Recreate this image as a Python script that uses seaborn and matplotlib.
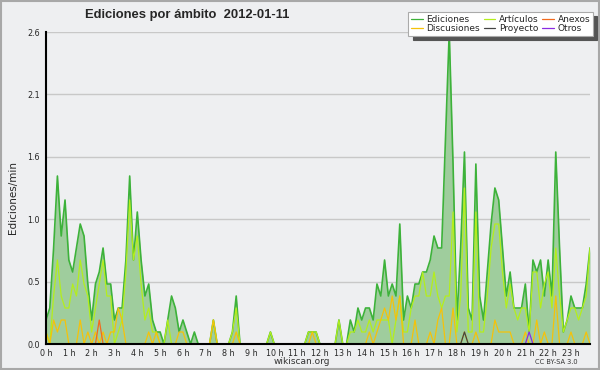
import numpy as np
import pandas as pd
import seaborn as sns
import matplotlib
matplotlib.use("Agg")
import matplotlib.pyplot as plt
from matplotlib.lines import Line2D
from matplotlib.ticker import FixedLocator, MultipleLocator

# edits per minute, one value per 10-minute slot (12 values = 2 hours per row)
ediciones = [
    0.2, 0.3, 0.8, 1.4, 0.9, 1.2, 0.7, 0.6, 0.8, 1.0, 0.9, 0.5,
    0.2, 0.5, 0.6, 0.8, 0.5, 0.5, 0.2, 0.3, 0.3, 0.7, 1.4, 0.7,
    1.1, 0.7, 0.4, 0.5, 0.2, 0.1, 0.1, 0.0, 0.2, 0.4, 0.3, 0.1,
    0.2, 0.1, 0.0, 0.1, 0.0, 0.0, 0.0, 0.0, 0.2, 0.0, 0.0, 0.0,
    0.0, 0.1, 0.4, 0.0, 0.0, 0.0, 0.0, 0.0, 0.0, 0.0, 0.0, 0.1,
    0.0, 0.0, 0.0, 0.0, 0.0, 0.0, 0.0, 0.0, 0.0, 0.1, 0.1, 0.1,
    0.0, 0.0, 0.0, 0.0, 0.0, 0.2, 0.0, 0.0, 0.2, 0.1, 0.3, 0.2,
    0.3, 0.3, 0.2, 0.5, 0.4, 0.7, 0.4, 0.5, 0.4, 1.0, 0.2, 0.4,
    0.3, 0.5, 0.5, 0.6, 0.6, 0.7, 0.9, 0.8, 0.8, 1.7, 2.6, 1.5,
    0.2, 0.8, 1.6, 0.3, 0.2, 1.5, 0.4, 0.2, 0.6, 1.0, 1.3, 1.2,
    0.8, 0.4, 0.6, 0.3, 0.3, 0.3, 0.5, 0.1, 0.7, 0.6, 0.7, 0.4,
    0.7, 0.4, 1.6, 0.8, 0.1, 0.2, 0.4, 0.3, 0.3, 0.3, 0.5, 0.8,
]
articulos = [
    0.1, 0.0, 0.4, 0.7, 0.4, 0.3, 0.3, 0.5, 0.4, 0.7, 0.5, 0.4,
    0.1, 0.3, 0.5, 0.7, 0.4, 0.4, 0.0, 0.1, 0.2, 0.6, 1.2, 0.7,
    0.9, 0.5, 0.2, 0.3, 0.1, 0.1, 0.0, 0.0, 0.2, 0.0, 0.0, 0.0,
    0.0, 0.0, 0.0, 0.0, 0.0, 0.0, 0.0, 0.0, 0.2, 0.0, 0.0, 0.0,
    0.0, 0.1, 0.3, 0.0, 0.0, 0.0, 0.0, 0.0, 0.0, 0.0, 0.0, 0.1,
    0.0, 0.0, 0.0, 0.0, 0.0, 0.0, 0.0, 0.0, 0.0, 0.1, 0.1, 0.1,
    0.0, 0.0, 0.0, 0.0, 0.0, 0.2, 0.0, 0.0, 0.1, 0.1, 0.2, 0.1,
    0.1, 0.2, 0.1, 0.2, 0.2, 0.2, 0.2, 0.0, 0.2, 0.4, 0.1, 0.1,
    0.3, 0.4, 0.4, 0.6, 0.4, 0.4, 0.6, 0.4, 0.3, 0.4, 0.4, 1.1,
    0.1, 0.4, 1.3, 0.1, 0.1, 1.1, 0.1, 0.1, 0.4, 0.8, 1.0, 1.0,
    0.6, 0.3, 0.5, 0.3, 0.2, 0.3, 0.3, 0.1, 0.6, 0.6, 0.3, 0.5,
    0.6, 0.3, 0.8, 0.4, 0.1, 0.2, 0.3, 0.3, 0.2, 0.3, 0.4, 0.8,
]
discusiones = [
    0.1, 0.0, 0.2, 0.1, 0.2, 0.2, 0.0, 0.0, 0.0, 0.2, 0.0, 0.1,
    0.0, 0.1, 0.0, 0.1, 0.0, 0.1, 0.1, 0.3, 0.2, 0.0, 0.0, 0.0,
    0.0, 0.0, 0.0, 0.1, 0.0, 0.1, 0.0, 0.0, 0.0, 0.0, 0.0, 0.1,
    0.1, 0.0, 0.0, 0.0, 0.0, 0.0, 0.0, 0.0, 0.2, 0.0, 0.0, 0.0,
    0.0, 0.0, 0.1, 0.0, 0.0, 0.0, 0.0, 0.0, 0.0, 0.0, 0.0, 0.0,
    0.0, 0.0, 0.0, 0.0, 0.0, 0.0, 0.0, 0.0, 0.0, 0.0, 0.1, 0.0,
    0.0, 0.0, 0.0, 0.0, 0.0, 0.0, 0.0, 0.0, 0.0, 0.0, 0.0, 0.0,
    0.0, 0.1, 0.0, 0.1, 0.2, 0.3, 0.2, 0.4, 0.2, 0.4, 0.0, 0.0,
    0.0, 0.2, 0.0, 0.0, 0.0, 0.1, 0.0, 0.2, 0.3, 0.0, 0.0, 0.3,
    0.0, 0.0, 0.1, 0.0, 0.0, 0.1, 0.0, 0.0, 0.0, 0.0, 0.2, 0.1,
    0.1, 0.1, 0.1, 0.0, 0.0, 0.0, 0.1, 0.0, 0.0, 0.2, 0.0, 0.1,
    0.0, 0.0, 0.4, 0.0, 0.0, 0.0, 0.1, 0.0, 0.0, 0.0, 0.1, 0.0,
]
# sparse series: (slot index, value)
anexos_pts = [(14, 0.2)]
proyecto_pts = [(110, 0.1)]
otros_pts = [(127, 0.1)]

hour_labels = [f"{h} h" for h in range(24)]
ytick_labels = ["0.0", "0.5", "1.0", "1.6", "2.1", "2.6"]

n = len(ediciones)
hours = np.arange(n) / 6.0


def sparse(points):
    vals = np.zeros(n)
    for i, v in points:
        vals[i] = v
    return vals


df = pd.DataFrame({
    "hora": hours,
    "Ediciones": ediciones,
    "Artículos": articulos,
    "Discusiones": discusiones,
    "Anexos": sparse(anexos_pts),
    "Proyecto": sparse(proyecto_pts),
    "Otros": sparse(otros_pts),
})

colors = {
    "Ediciones": "#3db23a",
    "Artículos": "#b4ee1c",
    "Discusiones": "#f5c20a",
    "Anexos": "#f26a1e",
    "Proyecto": "#444444",
    "Otros": "#8a2be2",
}

bg = "#eeeff1"
sns.set_style("white")
plt.rcParams["font.family"] = ["DejaVu Sans"]

fig = plt.figure(figsize=(6.0, 3.7), dpi=100, facecolor=bg)
ax = fig.add_axes([46 / 600, 26 / 370, 544 / 600, 312 / 370])
ax.set_facecolor(bg)

ax.fill_between(df["hora"], df["Ediciones"], color="#9fcd9d", lw=0, zorder=1)
for name in ["Ediciones", "Artículos", "Discusiones", "Anexos", "Proyecto", "Otros"]:
    sns.lineplot(data=df, x="hora", y=name, ax=ax, color=colors[name],
                 lw=1.2 if name == "Ediciones" else 0.9, zorder=3)

ax.set_xlim(0, hours[-1])
ax.set_ylim(0, 2.6)
yt = np.linspace(0, 2.6, 6)
ax.yaxis.set_major_locator(FixedLocator(yt))
ax.set_yticklabels(ytick_labels)
ax.yaxis.set_minor_locator(MultipleLocator(0.13))
ax.xaxis.set_major_locator(FixedLocator(np.arange(24)))
ax.set_xticklabels(hour_labels)
ax.xaxis.set_minor_locator(MultipleLocator(1 / 6))
ax.tick_params(axis="x", which="major", direction="out", length=3, width=1,
               labelsize=5.8, color="black", pad=0.5)
ax.tick_params(axis="x", which="minor", direction="out", length=2.2, width=0.8,
               color="black")
ax.tick_params(axis="y", which="major", direction="out", length=4, width=1,
               labelsize=5.8, color="black", pad=0.5)
ax.tick_params(axis="y", which="minor", direction="out", length=2.5, width=1,
               color="black")
for y in yt:
    ax.axhline(y, color="#c8c8c8", lw=1, zorder=0)

for side in ["top", "right"]:
    ax.spines[side].set_visible(False)
for side in ["left", "bottom"]:
    ax.spines[side].set_color("black")
    ax.spines[side].set_linewidth(1.5)
    ax.spines[side].set_zorder(5)

ax.set_xlabel("")
ax.set_ylabel("Ediciones/min", fontsize=7.5)
ax.yaxis.set_label_coords(-0.052, 0.47)

fig.text(85 / 600, 1 - 15 / 370, "Ediciones por ámbito  2012-01-11",
         fontsize=9.4, fontweight="bold", ha="left", va="center",
         family=["Liberation Sans", "DejaVu Sans"])
fig.text(302 / 600, 1 - 361 / 370, "wikiscan.org", fontsize=6.5,
         ha="center", va="center", color="#333333")
fig.text(556 / 600, 1 - 362 / 370, "CC BY-SA 3.0", fontsize=4.8,
         ha="center", va="center", color="#333333")

# legend, filled column by column
order = ["Ediciones", "Discusiones", "Artículos", "Proyecto", "Anexos", "Otros"]
handles = [Line2D([], [], color=colors[k], lw=0.9) for k in order]
leg = fig.legend(handles, order, ncol=3, loc="upper right",
                 bbox_to_anchor=(593 / 600, 1 - 12 / 370), fontsize=6.5,
                 frameon=True, fancybox=False,
                 shadow={"color": "#555555", "alpha": 1, "ox": 3, "oy": -3},
                 handlelength=1.3, handletextpad=0.4, columnspacing=0.4,
                 labelspacing=0.05, borderpad=0.3, borderaxespad=0)
leg.get_frame().set_facecolor("white")
leg.get_frame().set_edgecolor("#aaaaaa")
leg.get_frame().set_linewidth(0.8)

# outer border of the picture
fig.patches.append(plt.Rectangle((0.001, 0.002), 0.997, 0.995, transform=fig.transFigure,
                                 fill=False, ec="#a8a8a8", lw=1.5))

fig.savefig("out.png", dpi=100, facecolor=bg)
